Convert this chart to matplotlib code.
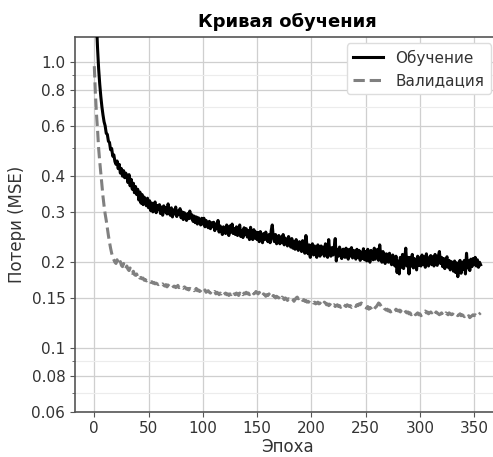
import numpy as np
import matplotlib
matplotlib.use("Agg")
import matplotlib.pyplot as plt
from matplotlib.ticker import FixedLocator, FixedFormatter, NullFormatter

# потери на обучении (по эпохам)
train_loss = [
    2.60, 1.85, 1.38, 1.12, 0.95, 0.84, 0.76, 0.70, 0.655, 0.62,
    0.60, 0.565, 0.56, 0.53, 0.525, 0.495, 0.50, 0.47, 0.475, 0.45,
    0.44, 0.452, 0.425, 0.44, 0.41, 0.425, 0.40, 0.418, 0.395, 0.41,
    0.40, 0.38, 0.405, 0.37, 0.39, 0.36, 0.378, 0.35, 0.368, 0.345,
    0.36, 0.33, 0.352, 0.322, 0.345, 0.318, 0.338, 0.326, 0.315, 0.335,
    0.31, 0.328, 0.303, 0.322, 0.30, 0.318, 0.325, 0.298, 0.316, 0.305,
    0.318, 0.296, 0.312, 0.292, 0.315, 0.30, 0.31, 0.295, 0.32, 0.30,
    0.292, 0.31, 0.288, 0.305, 0.295, 0.312, 0.289, 0.302, 0.294, 0.308,
    0.286, 0.30, 0.282, 0.298, 0.29, 0.28, 0.296, 0.284, 0.302, 0.285,
    0.293, 0.278, 0.29, 0.275, 0.288, 0.272, 0.286, 0.28, 0.27, 0.285,
    0.272, 0.285, 0.266, 0.28, 0.27, 0.264, 0.278, 0.262, 0.275, 0.266,
    0.276, 0.258, 0.272, 0.262, 0.28, 0.255, 0.268, 0.26, 0.25, 0.266,
    0.262, 0.252, 0.27, 0.256, 0.248, 0.268, 0.255, 0.272, 0.252, 0.262,
    0.25, 0.266, 0.248, 0.26, 0.27, 0.246, 0.258, 0.244, 0.264, 0.25,
    0.262, 0.245, 0.258, 0.24, 0.265, 0.248, 0.24, 0.26, 0.243, 0.255,
    0.24, 0.254, 0.236, 0.256, 0.245, 0.234, 0.252, 0.24, 0.255, 0.242,
    0.236, 0.25, 0.234, 0.258, 0.27, 0.242, 0.236, 0.25, 0.232, 0.244,
    0.248, 0.232, 0.245, 0.234, 0.25, 0.23, 0.243, 0.235, 0.228, 0.246,
    0.238, 0.226, 0.242, 0.224, 0.236, 0.222, 0.24, 0.226, 0.22, 0.236,
    0.232, 0.218, 0.238, 0.222, 0.215, 0.248, 0.228, 0.214, 0.23, 0.208,
    0.226, 0.232, 0.212, 0.228, 0.216, 0.208, 0.23, 0.222, 0.21, 0.228,
    0.214, 0.226, 0.21, 0.232, 0.218, 0.208, 0.24, 0.216, 0.21, 0.225,
    0.212, 0.224, 0.242, 0.202, 0.222, 0.21, 0.226, 0.214, 0.206, 0.222,
    0.222, 0.208, 0.224, 0.212, 0.205, 0.222, 0.21, 0.225, 0.207, 0.22,
    0.216, 0.205, 0.222, 0.208, 0.22, 0.203, 0.217, 0.206, 0.223, 0.204,
    0.218, 0.202, 0.222, 0.206, 0.20, 0.22, 0.207, 0.204, 0.224, 0.205,
    0.216, 0.222, 0.203, 0.23, 0.21, 0.20, 0.218, 0.205, 0.198, 0.214,
    0.213, 0.20, 0.215, 0.202, 0.196, 0.212, 0.199, 0.194, 0.21, 0.184,
    0.202, 0.182, 0.208, 0.192, 0.213, 0.19, 0.205, 0.224, 0.194, 0.208,
    0.182, 0.208, 0.194, 0.213, 0.191, 0.206, 0.197, 0.188, 0.21, 0.195,
    0.207, 0.194, 0.212, 0.197, 0.209, 0.192, 0.214, 0.199, 0.194, 0.208,
    0.211, 0.196, 0.209, 0.194, 0.213, 0.20, 0.195, 0.21, 0.218, 0.198,
    0.208, 0.193, 0.206, 0.19, 0.204, 0.209, 0.192, 0.203, 0.188, 0.201,
    0.198, 0.186, 0.202, 0.184, 0.199, 0.178, 0.197, 0.203, 0.183, 0.20,
    0.189, 0.203, 0.182, 0.215, 0.191, 0.202, 0.187, 0.205, 0.193, 0.206,
    0.196, 0.208, 0.194, 0.204, 0.192, 0.20, 0.196,
]

# потери на валидации
val_loss = [
    0.97, 0.78, 0.66, 0.58, 0.50, 0.45, 0.41, 0.37, 0.34, 0.315,
    0.295, 0.28, 0.263, 0.248, 0.235, 0.224, 0.215, 0.208, 0.204, 0.20,
    0.198, 0.204, 0.199, 0.196, 0.201, 0.195, 0.193, 0.198, 0.192, 0.19,
    0.194, 0.189, 0.187, 0.191, 0.185, 0.183, 0.186, 0.181, 0.18, 0.182,
    0.178, 0.18, 0.176, 0.177, 0.175, 0.176, 0.173, 0.174, 0.172, 0.173,
    0.171, 0.172, 0.17, 0.171, 0.169, 0.17, 0.168, 0.169, 0.168, 0.167,
    0.168, 0.166, 0.167, 0.168, 0.166, 0.165, 0.167, 0.164, 0.166, 0.168,
    0.167, 0.165, 0.166, 0.164, 0.165, 0.163, 0.164, 0.166, 0.163, 0.164,
    0.165, 0.163, 0.162, 0.164, 0.163, 0.161, 0.162, 0.16, 0.162, 0.161,
    0.16, 0.161, 0.159, 0.16, 0.162, 0.159, 0.16, 0.158, 0.159, 0.161,
    0.159, 0.158, 0.16, 0.157, 0.158, 0.159, 0.157, 0.156, 0.158, 0.157,
    0.156, 0.158, 0.155, 0.157, 0.156, 0.154, 0.156, 0.155, 0.157, 0.154,
    0.155, 0.156, 0.154, 0.155, 0.153, 0.155, 0.154, 0.156, 0.153, 0.155,
    0.154, 0.156, 0.155, 0.153, 0.156, 0.155, 0.157, 0.154, 0.156, 0.155,
    0.157, 0.155, 0.156, 0.154, 0.156, 0.155, 0.157, 0.155, 0.156, 0.158,
    0.156, 0.155, 0.157, 0.154, 0.155, 0.153, 0.155, 0.154, 0.152, 0.154,
    0.153, 0.155, 0.152, 0.153, 0.151, 0.153, 0.152, 0.15, 0.152, 0.151,
    0.15, 0.152, 0.149, 0.151, 0.15, 0.148, 0.15, 0.149, 0.147, 0.149,
    0.148, 0.147, 0.149, 0.148, 0.146, 0.148, 0.15, 0.151, 0.149, 0.15,
    0.148, 0.149, 0.147, 0.148, 0.146, 0.147, 0.145, 0.146, 0.145, 0.144,
    0.145, 0.146, 0.144, 0.145, 0.143, 0.144, 0.145, 0.143, 0.144, 0.142,
    0.144, 0.143, 0.145, 0.144, 0.142, 0.143, 0.141, 0.142, 0.144, 0.142,
    0.141, 0.142, 0.14, 0.141, 0.142, 0.14, 0.141, 0.139, 0.141, 0.14,
    0.142, 0.141, 0.14, 0.142, 0.141, 0.14, 0.141, 0.139, 0.14, 0.142,
    0.141, 0.14, 0.142, 0.141, 0.143, 0.142, 0.144, 0.143, 0.142, 0.14,
    0.139, 0.138, 0.14, 0.137, 0.139, 0.138, 0.136, 0.138, 0.137, 0.139,
    0.14, 0.142, 0.144, 0.143, 0.141, 0.139, 0.14, 0.138, 0.137, 0.136,
    0.137, 0.135, 0.136, 0.134, 0.135, 0.136, 0.134, 0.135, 0.137, 0.136,
    0.135, 0.136, 0.134, 0.136, 0.137, 0.135, 0.136, 0.134, 0.133, 0.134,
    0.132, 0.133, 0.131, 0.132, 0.134, 0.133, 0.131, 0.132, 0.133, 0.131,
    0.132, 0.13, 0.131, 0.133, 0.134, 0.135, 0.133, 0.134, 0.132, 0.133,
    0.134, 0.133, 0.135, 0.133, 0.132, 0.134, 0.133, 0.132, 0.131, 0.132,
    0.133, 0.131, 0.132, 0.131, 0.133, 0.132, 0.131, 0.133, 0.132, 0.131,
    0.132, 0.131, 0.13, 0.132, 0.131, 0.13, 0.131, 0.132, 0.13, 0.131,
    0.13, 0.129, 0.131, 0.13, 0.129, 0.13, 0.128, 0.129, 0.13, 0.131,
    0.13, 0.131, 0.13, 0.132, 0.131, 0.132, 0.133,
]

y_ticks = [0.06, 0.08, 0.1, 0.15, 0.2, 0.3, 0.4, 0.6, 0.8, 1.0]
y_tick_labels = ["0.06", "0.08", "0.1", "0.15", "0.2", "0.3", "0.4", "0.6", "0.8", "1.0"]
y_minor = [0.07, 0.09, 0.5, 0.7, 0.9]

epochs = np.arange(len(train_loss))
assert len(val_loss) == len(train_loss)

fig = plt.figure(figsize=(4.93, 4.57), dpi=100)
ax = fig.add_axes([0.1521, 0.0991, 0.862, 0.8206])

ax.plot(epochs, train_loss, color="black", lw=2.2, label="Обучение", zorder=3)
ax.plot(epochs, val_loss, color="#808080", lw=2.2, ls="--", label="Валидация", zorder=3)

ax.set_yscale("log")
ax.set_ylim(0.06, 1.23)
ax.set_xlim(-17.8, 373.8)
ax.yaxis.set_major_locator(FixedLocator(y_ticks))
ax.yaxis.set_major_formatter(FixedFormatter(y_tick_labels))
ax.yaxis.set_minor_locator(FixedLocator(y_minor))
ax.yaxis.set_minor_formatter(NullFormatter())
ax.set_xticks(range(0, 351, 50))

ax.grid(True, which="major", color="#cfcfcf", lw=0.9)
ax.grid(True, which="minor", color="#ececec", lw=0.8)
ax.set_axisbelow(True)

for s in ax.spines.values():
    s.set_color("#555555")
    s.set_linewidth(1.2)
ax.tick_params(colors="#555555", labelcolor="#333333", labelsize=11)
ax.tick_params(which="minor", colors="#555555", length=2.5)

ax.set_title("Кривая обучения", fontsize=13, fontweight="bold", pad=7)
ax.set_xlabel("Эпоха", fontsize=12, color="#333333", labelpad=1)
ax.set_ylabel("Потери (MSE)", fontsize=12, color="#333333")

leg = ax.legend(loc="upper right", fontsize=11, framealpha=1, edgecolor="#dddddd",
                bbox_to_anchor=(0.978, 0.982), borderaxespad=0)
for t in leg.get_texts():
    t.set_color("#333333")

fig.savefig("out.png", dpi=100)
